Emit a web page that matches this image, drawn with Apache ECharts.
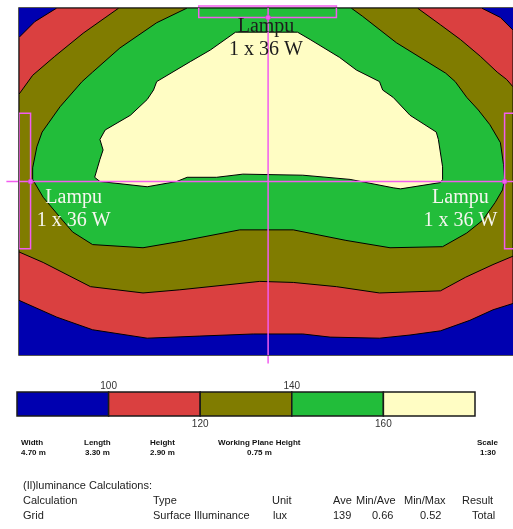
<!DOCTYPE html>
<html><head><meta charset="utf-8">
<script src="https://cdn.jsdelivr.net/npm/echarts@6/dist/echarts.min.js"></script>
<style>html,body{margin:0;padding:0;background:#fff}#c{width:513px;height:529px}</style>
</head><body><div id="c"></div>
<script>
// Room (m)
const roomWidth = 4.70;
const roomLength = 3.30;

// Iso-lux contour boundaries (m), regions where E >= level
const contour100 = [[0.36,3.30],[4.40,3.30],[4.58,3.21],[4.70,3.09],[4.70,0.49],[4.51,0.43],[4.29,0.33],[4.01,0.23],[3.72,0.19],[3.43,0.16],[2.96,0.17],[2.70,0.20],[2.23,0.20],[1.72,0.18],[1.22,0.16],[0.70,0.24],[0.36,0.36],[0,0.52],[0,3.02],[0.15,3.17]];
const contour120 = [[0.95,3.30],[3.79,3.30],[4.01,3.14],[4.20,3.00],[4.39,2.84],[4.55,2.69],[4.64,2.62],[4.70,2.55],[4.70,0.94],[4.51,0.86],[4.25,0.74],[4.01,0.61],[3.43,0.59],[3.02,0.65],[2.61,0.69],[2.29,0.70],[1.53,0.62],[1.18,0.59],[0.68,0.65],[0.23,0.88],[0,0.98],[0,2.48],[0.13,2.66],[0.34,2.84],[0.61,3.06]];
const contour140 = [[1.60,3.30],[3.16,3.30],[3.27,3.22],[3.59,2.97],[4.06,2.68],[4.15,2.60],[4.26,2.45],[4.37,2.33],[4.48,2.19],[4.58,2.02],[4.61,1.81],[4.62,1.67],[4.60,1.57],[4.53,1.45],[4.41,1.28],[4.26,1.16],[4.03,1.03],[3.53,1.02],[3.11,1.09],[2.61,1.19],[2.10,1.19],[1.53,1.08],[1.18,1.02],[0.70,1.05],[0.51,1.17],[0.39,1.31],[0.23,1.50],[0.13,1.67],[0.13,1.78],[0.17,1.98],[0.22,2.12],[0.39,2.36],[0.60,2.60],[0.70,2.69],[0.96,2.92],[1.31,3.16]];
const contour160 = [[2.06,3.07],[2.65,3.07],[2.77,3.00],[3.05,2.83],[3.21,2.71],[3.43,2.60],[3.46,2.52],[3.56,2.45],[3.72,2.28],[3.97,2.12],[3.99,2.05],[4.03,1.79],[4.03,1.67],[4.01,1.64],[3.63,1.58],[3.56,1.59],[3.15,1.67],[2.70,1.71],[2.13,1.72],[1.88,1.69],[1.60,1.69],[1.50,1.65],[1.22,1.60],[0.77,1.65],[0.72,1.69],[0.77,1.86],[0.80,1.95],[0.77,2.05],[0.82,2.14],[1.06,2.28],[1.22,2.43],[1.28,2.52],[1.31,2.60],[1.63,2.79],[1.82,2.90]];

// Luminaires: [x0, y0, x1, y1] in m, aim points, label anchors
const luminaires = [[1.71,3.21,3.02,3.32],[0,1.01,0.11,2.30],[4.62,1.01,4.73,2.30]];
const aimPoints = [[2.37,3.21],[0.11,1.65],[4.62,1.65]];
const crossLines = [[[2.37,-0.08],[2.37,3.32]],[[-0.12,1.65],[4.70,1.65]]];
const labelAnchors = [[2.35,3.01],[0.52,1.39],[4.20,1.39]];
const lumLabel = 'Lampu\n1 x 36 W';

// Legend scale
const legendEdges = [80,100,120,140,160,180];
const topTicks = [100,140];
const bottomTicks = [120,160];

// Info texts
const dimNames = ['Width','Length','Height','Working Plane Height','Scale'];
const dimValues = ['4.70 m','3.30 m','2.90 m','0.75 m','1:30'];
const tableTitle = '(Il)luminance Calculations:';
const tableHeader = ['Calculation','Type','Unit','Ave','Min/Ave','Min/Max','Result'];
const tableRow = ['Grid','Surface Illuminance','lux','139','0.66','0.52','Total'];

const bandColors = ['#0000b0','#da4040','#807c00','#22bd3a','#fffdc4'];
const PINK = '#f25cf0';

function polygonSeries(points, color, z) {
  return {
    type: 'custom', xAxisIndex: 0, yAxisIndex: 0, z: z, silent: true,
    data: points, encode: {x: 0, y: 1},
    renderItem: function (params, api) {
      if (params.dataIndex !== 0) return null;
      const pts = points.map(function (p) { return api.coord(p); });
      return {type: 'polygon', shape: {points: pts}, style: {fill: color, stroke: '#000', lineWidth: 1}};
    }
  };
}

const G = {left: 19, top: 8, width: 494, height: 347};

const graphics = [
  {type: 'rect', z: 100, silent: true, shape: {x: G.left - 0.5, y: G.top - 0.5, width: G.width + 1, height: G.height + 1}, style: {fill: null, stroke: '#555', lineWidth: 1}}
];
const dimNameX = [21,84,150,218,477];
const dimValX = [21,85,150,247,480];
dimNames.forEach(function (t, i) {
  graphics.push({type: 'text', x: dimNameX[i], y: 443, style: {text: t, font: 'bold 8px "Liberation Sans", Arial', fill: '#111', verticalAlign: 'middle'}});
  graphics.push({type: 'text', x: dimValX[i], y: 453, style: {text: dimValues[i], font: 'bold 8px "Liberation Sans", Arial', fill: '#111', verticalAlign: 'middle'}});
});
graphics.push({type: 'text', x: 23, y: 486, style: {text: tableTitle, font: '11px "Liberation Sans", Arial', fill: '#222', verticalAlign: 'middle'}});
const headX = [23,153,272,333,356,404,462];
const rowX = [23,153,273,333,372,420,472];
tableHeader.forEach(function (t, i) {
  graphics.push({type: 'text', x: headX[i], y: 501, style: {text: t, font: '11px "Liberation Sans", Arial', fill: '#222', verticalAlign: 'middle'}});
  graphics.push({type: 'text', x: rowX[i], y: 516, style: {text: tableRow[i], font: '11px "Liberation Sans", Arial', fill: '#222', verticalAlign: 'middle'}});
});

const chart = echarts.init(document.getElementById('c'), null, {renderer: 'canvas'});
chart.setOption({
  animation: false,
  backgroundColor: '#fff',
  grid: [
    {left: G.left, top: G.top, width: G.width, height: G.height, show: true, backgroundColor: bandColors[0], borderWidth: 0},
    {left: 17, top: 392, width: 458, height: 24, show: false}
  ],
  xAxis: [
    {gridIndex: 0, type: 'value', min: 0, max: roomWidth, show: false},
    {gridIndex: 1, type: 'value', min: 80, max: 180, interval: 20, position: 'bottom',
      axisLine: {show: false}, axisTick: {show: false}, splitLine: {show: false},
      axisLabel: {margin: 3, fontSize: 10, color: '#333', fontFamily: '"Liberation Sans", Arial',
        formatter: function (v) { return bottomTicks.indexOf(v) >= 0 ? String(v) : ''; }}},
    {gridIndex: 1, type: 'value', min: 80, max: 180, interval: 20, position: 'top',
      axisLine: {show: false}, axisTick: {show: false}, splitLine: {show: false},
      axisLabel: {margin: 1, fontSize: 10, color: '#333', fontFamily: '"Liberation Sans", Arial',
        formatter: function (v) { return topTicks.indexOf(v) >= 0 ? String(v) : ''; }}}
  ],
  yAxis: [
    {gridIndex: 0, type: 'value', min: 0, max: roomLength, show: false},
    {gridIndex: 1, type: 'value', min: 0, max: 1, show: false}
  ],
  series: [
    polygonSeries(contour100, bandColors[1], 2),
    polygonSeries(contour120, bandColors[2], 3),
    polygonSeries(contour140, bandColors[3], 4),
    polygonSeries(contour160, bandColors[4], 5),
    {
      type: 'custom', xAxisIndex: 0, yAxisIndex: 0, z: 10, silent: true, clip: false,
      data: luminaires,
      renderItem: function (params, api) {
        const i = params.dataIndex;
        const r = luminaires[i];
        const a = api.coord([r[0], r[3]]);
        const b = api.coord([r[2], r[1]]);
        const children = [
          {type: 'rect', shape: {x: a[0], y: a[1], width: b[0] - a[0], height: b[1] - a[1]}, style: {fill: null, stroke: PINK, lineWidth: 1.5}}
        ];
        if (i < crossLines.length) {
          children.push({type: 'polyline', shape: {points: crossLines[i].map(function (p) { return api.coord(p); })}, style: {fill: null, stroke: PINK, lineWidth: 1.5}});
        }
        const c = api.coord(aimPoints[i]);
        children.push({type: 'circle', shape: {cx: c[0], cy: c[1], r: 2.5}, style: {fill: PINK, stroke: '#c030c0', lineWidth: 0.5}});
        const l = api.coord(labelAnchors[i]);
        children.push({type: 'text', x: l[0], y: l[1], z2: 20, style: {text: lumLabel, font: '20px "Liberation Serif", "Times New Roman", serif', fill: i === 0 ? '#1c1c1c' : '#f6f6f0', align: 'center', verticalAlign: 'middle', lineHeight: 23}});
        return {type: 'group', children: children};
      }
    },
    {
      type: 'custom', xAxisIndex: 1, yAxisIndex: 1, z: 5, silent: true,
      data: legendEdges.slice(0, -1).map(function (v, i) { return [v, legendEdges[i + 1]]; }),
      encode: {x: [0, 1]},
      renderItem: function (params, api) {
        const i = params.dataIndex;
        const a = api.coord([api.value(0), 1]);
        const b = api.coord([api.value(1), 0]);
        return {type: 'rect', shape: {x: a[0], y: a[1], width: b[0] - a[0], height: b[1] - a[1]}, style: {fill: bandColors[i], stroke: '#1a1a1a', lineWidth: 1.5}};
      }
    }
  ],
  graphic: graphics
});
</script>
</body></html>
